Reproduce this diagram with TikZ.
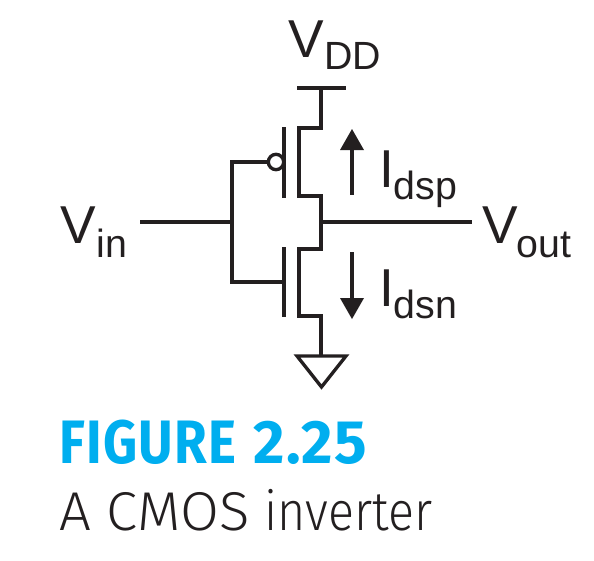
\documentclass[tikz,border=0pt]{standalone}
\usepackage{fontspec}
\setmainfont{Liberation Sans}
\newfontfamily\capword[FakeStretch=0.865,LetterSpace=2]{Fira Sans}
\newfontfamily\capnum[FakeStretch=0.99,LetterSpace=2]{Fira Sans}
\newfontfamily\bodyupper[FakeStretch=1.03]{Fira Sans Light}
\newfontfamily\bodylower[FakeStretch=0.885]{Fira Sans Light}
\definecolor{figblue}{HTML}{00AEEF}
\definecolor{ink}{HTML}{231F20}
\tikzset{wire/.style={line width=2.5pt,color=ink,line join=miter},
 lbl/.style={inner sep=0pt,anchor=base west,text=ink,font=\fontsize{40}{40}\selectfont},
 sub/.style={inner sep=0pt,anchor=base west,text=ink,font=\fontsize{29.5}{29.5}\selectfont}}
\begin{document}
\begin{tikzpicture}[x=0.75pt,y=-0.75pt]
\useasboundingbox (0,0) rectangle (594,561);
\coordinate (vddL) at (297,88);
\coordinate (vddR) at (346,88);
\coordinate (vdd) at (321,88);
\coordinate (mid) at (321,222);
\coordinate (gnd) at (321,356);
\coordinate (in) at (140,222);
\coordinate (out) at (472,222);
\coordinate (gate) at (232,222);
\draw[wire] (vddL) -- (vddR);
\draw[wire] (vdd) -- (321,128) -- (299,128) -- (299,196) -- (321,196) -- (mid);
\draw[wire] (mid) -- (321,249) -- (299,249) -- (299,316) -- (321,316) -- (gnd);
\draw[wire] (284,127) -- (284,198) (284,247) -- (284,317);
\draw[wire] (in) -- (gate) (mid) -- (out);
\draw[wire] (268,162) -- (232,162) -- (232,282) -- (284,282);
\node[circle,draw=ink,line width=2.5pt,fill=white,minimum size=11.5pt,inner sep=0pt] (bub) at (276,162) {};
\draw[wire,fill=white] (297,356) -- (346,356) -- (321.5,387) -- cycle;
\fill[ink] (352,129) -- (364,150) -- (340,150) -- cycle;
\draw[wire] (352,148) -- (352,195);
\fill[ink] (352,319) -- (364,298) -- (340,298) -- cycle;
\draw[wire] (352,252) -- (352,300);
\node[lbl] (v1) at (288,57) {V};
\node[sub] (v1s) at (324,69) {DD};
\node[lbl] (v2) at (60,243) {V};
\node[sub] (v2s) at (96.5,257) {in};
\node[lbl] (v3) at (482,243) {V};
\node[sub] (v3s) at (516.5,257) {out};
\node[lbl] (i1) at (379,187) {I};
\node[sub] (i1s) at (393.5,199) {dsp};
\node[lbl] (i2) at (379,306) {I};
\node[sub] (i2s) at (393.5,318) {dsn};
\node[inner sep=0pt,anchor=base west,text=figblue,font=\bfseries\fontsize{46}{46}\selectfont] (t1) at (59,463) {{\capword\bfseries FIGURE}\hspace{13pt}{\capnum\bfseries 2.25}};
\node[inner sep=0pt,anchor=base west,text=ink,font=\fontsize{41}{41}\selectfont] (t2) at (59,530) {{\bodyupper A CMOS}\hspace{11.5pt}{\bodylower inverter}};
\end{tikzpicture}
\end{document}
